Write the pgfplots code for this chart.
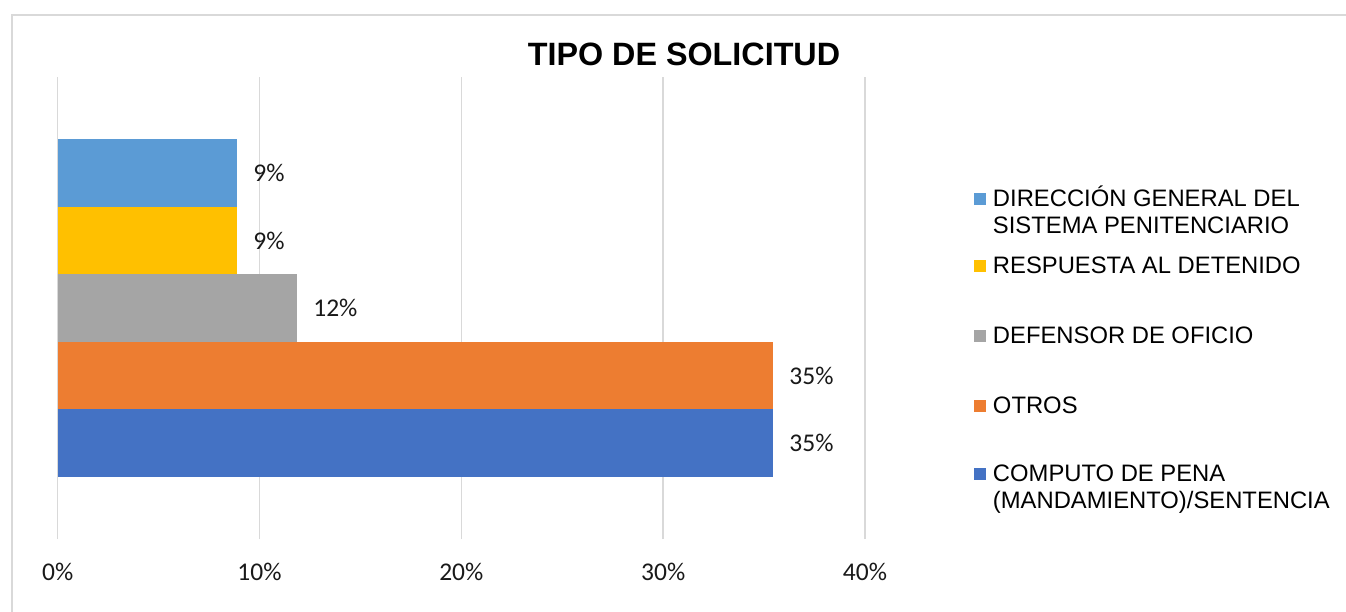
\documentclass[border=0pt]{standalone}
\usepackage{fontspec}
\setmainfont{Liberation Sans}
\newfontfamily\carlito{Carlito}
\usepackage{pgfplots}
\pgfplotsset{compat=1.18}
\definecolor{cDir}{HTML}{5B9BD5}
\definecolor{cResp}{HTML}{FFC000}
\definecolor{cDef}{HTML}{A5A5A5}
\definecolor{cOtr}{HTML}{ED7D31}
\definecolor{cComp}{HTML}{4472C4}
\definecolor{framegray}{HTML}{D9D9D9}
\begin{document}
\begin{tikzpicture}[x=1pt,y=1pt]
\useasboundingbox (0,0) rectangle (1346,-612);
\draw[color=framegray, line width=2pt] (12,-613) -- (12,-15) -- (1347,-15);
\begin{axis}[
  at={(57.7pt,-539pt)}, anchor=south west,
  scale only axis, width=807.3pt, height=462pt,
  xmin=0, xmax=40, ymin=-0.42, ymax=6.42,
  xbar, bar width=1, bar shift=0pt,
  axis line style={draw=none},
  major tick length=0pt,
  ytick=\empty,
  xtick={0,10,20,30,40},
  xmajorgrids,
  grid style={color=framegray, line width=1.5pt},
  /pgf/number format/assume math mode=true,
  xticklabel={\pgfmathprintnumber{\tick}\%},
  xticklabel style={anchor=base, yshift=-41pt, font=\carlito\fontsize{25.5}{30}\selectfont, text=black!90},
  point meta=x,
  nodes near coords={\pgfmathprintnumber[fixed,precision=0]{\pgfplotspointmeta}\%},
  nodes near coords style={anchor=west, inner sep=0pt, xshift=16.5pt, font=\carlito\fontsize{25.5}{30}\selectfont, text=black!90},
  title={TIPO DE SOLICITUD},
  title style={at={(0.7758,1.0223)}, anchor=base, yshift=-4.5pt, font=\bfseries\fontsize{32.3}{40}\selectfont},
  legend image code/.code={\fill[#1] (0pt,1.5pt) rectangle (12pt,13.5pt);},
  reverse legend,
  legend cell align=left,
  legend style={at={(1.1350,0.7626)}, anchor=north west, draw=none, fill=none,
    inner sep=0pt, outer sep=0pt, row sep=0pt, column sep=7pt,
    font=\fontsize{23.8}{26.7}\selectfont,
    cells={anchor=base west}, nodes={inner sep=0pt, outer sep=0pt}},
]
\addplot[fill=cComp, draw=none, bar shift=0pt] coordinates {(35.43,1)};
\addlegendentry[text height=20pt, text depth=30pt]{\smash{\vtop{\hbox{COMPUTO DE PENA}\hbox{(MANDAMIENTO)/SENTENCIA}}}}
\addplot[fill=cOtr, draw=none, bar shift=0pt] coordinates {(35.43,2)};
\addlegendentry[text height=20pt, text depth=48.4pt]{OTROS}
\addplot[fill=cDef, draw=none, bar shift=0pt] coordinates {(11.84,3)};
\addlegendentry[text height=20pt, text depth=49.3pt]{DEFENSOR DE OFICIO}
\addplot[fill=cResp, draw=none, bar shift=0pt] coordinates {(8.87,4)};
\addlegendentry[text height=20pt, text depth=50.7pt]{RESPUESTA AL DETENIDO}
\addplot[fill=cDir, draw=none, bar shift=0pt] coordinates {(8.87,5)};
\addlegendentry[text height=20pt, text depth=46.6pt]{\smash{\vtop{\hbox{DIRECCIÓN GENERAL DEL}\hbox{SISTEMA PENITENCIARIO}}}}
\end{axis}
\end{tikzpicture}
\end{document}
